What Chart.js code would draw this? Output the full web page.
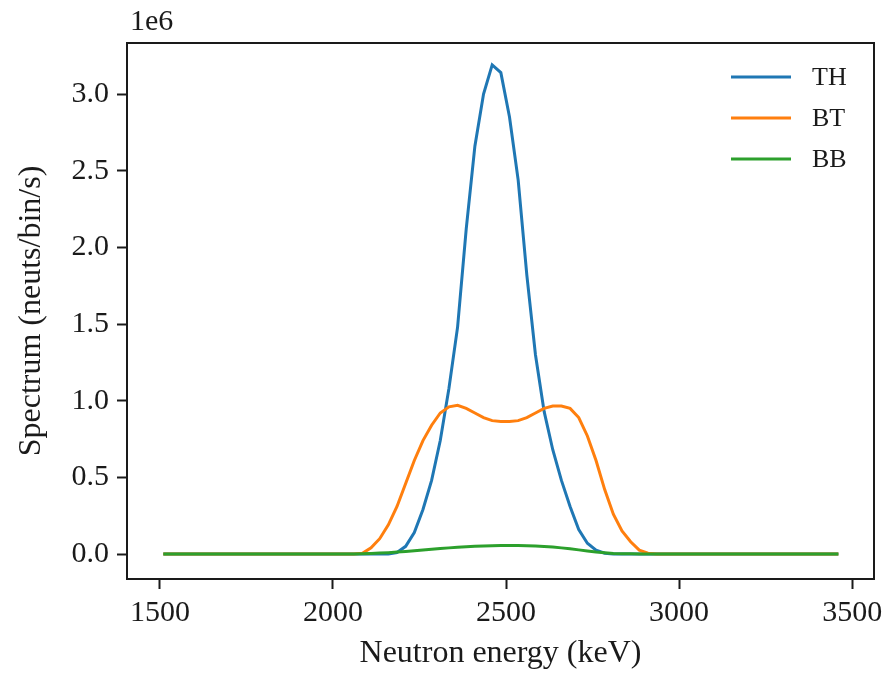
<!DOCTYPE html>
<html>
<head>
<meta charset="utf-8">
<script src="https://cdn.jsdelivr.net/npm/chart.js@4.4.1/dist/chart.umd.min.js"></script>
<style>
  html, body { margin: 0; padding: 0; background: #fff; }
  #wrap { width: 895px; height: 674px; }
</style>
</head>
<body>
<div id="wrap"><canvas id="spectrum" width="895" height="674"></canvas></div>
<script>
// neutron energy bins (keV)
const energy = [
  1510, 1535, 1560, 1585, 1610, 1635, 1660, 1685, 1710, 1735,
  1760, 1785, 1810, 1835, 1860, 1885, 1910, 1935, 1960, 1985,
  2010, 2035, 2060, 2085, 2110, 2135, 2160, 2185, 2210, 2235,
  2260, 2285, 2310, 2335, 2360, 2385, 2410, 2435, 2460, 2485,
  2510, 2535, 2560, 2585, 2610, 2635, 2660, 2685, 2710, 2735,
  2760, 2785, 2810, 2835, 2860, 2885, 2910, 2935, 2960, 2985,
  3010, 3035, 3060, 3085, 3110, 3135, 3160, 3185, 3210, 3235,
  3260, 3285, 3310, 3335, 3360, 3385, 3410, 3435, 3460
];

// spectra, in units of 1e6 neuts/bin/s
const th = [
  0, 0, 0, 0, 0, 0, 0, 0, 0, 0,
  0, 0, 0, 0, 0, 0, 0, 0, 0, 0,
  0, 0, 0, 0, 0, 0, 0, 0.01, 0.05, 0.14,
  0.29, 0.48, 0.74, 1.08, 1.48, 2.12, 2.66, 3.00, 3.19, 3.14,
  2.85, 2.44, 1.82, 1.30, 0.93, 0.68, 0.48, 0.31, 0.16, 0.07,
  0.025, 0.005, 0, 0, 0, 0, 0, 0, 0, 0,
  0, 0, 0, 0, 0, 0, 0, 0, 0, 0,
  0, 0, 0, 0, 0, 0, 0, 0, 0
];
const bt = [
  0, 0, 0, 0, 0, 0, 0, 0, 0, 0,
  0, 0, 0, 0, 0, 0, 0, 0, 0, 0,
  0, 0, 0, 0.005, 0.04, 0.10, 0.19, 0.31, 0.46, 0.61,
  0.74, 0.84, 0.92, 0.96, 0.97, 0.95, 0.92, 0.89, 0.87, 0.865,
  0.865, 0.87, 0.89, 0.92, 0.95, 0.965, 0.965, 0.95, 0.89, 0.77,
  0.61, 0.42, 0.26, 0.15, 0.08, 0.025, 0.005, 0, 0, 0,
  0, 0, 0, 0, 0, 0, 0, 0, 0, 0,
  0, 0, 0, 0, 0, 0, 0, 0, 0
];
const bb = [
  0, 0, 0, 0, 0, 0, 0, 0, 0, 0,
  0, 0, 0, 0, 0, 0, 0, 0, 0, 0,
  0, 0, 0, 0.002, 0.004, 0.006, 0.009, 0.013, 0.017, 0.021,
  0.026, 0.031, 0.036, 0.040, 0.044, 0.047, 0.050, 0.052, 0.054, 0.055,
  0.055, 0.055, 0.054, 0.052, 0.049, 0.045, 0.040, 0.034, 0.027, 0.020,
  0.013, 0.008, 0.004, 0.002, 0.001, 0, 0, 0, 0, 0,
  0, 0, 0, 0, 0, 0, 0, 0, 0, 0,
  0, 0, 0, 0, 0, 0, 0, 0, 0
];

const seriesNames = ["TH", "BT", "BB"];
const seriesColors = ["#1f77b4", "#ff7f0e", "#2ca02c"];
const xTicks = [1500, 2000, 2500, 3000, 3500];
const yTicks = [0, 0.5, 1.0, 1.5, 2.0, 2.5, 3.0];

const FONT = "'Liberation Serif', 'Times New Roman', serif";
const INK = "#1a1a1a";

function pts(ys) {
  return energy.map((e, i) => ({ x: e, y: ys[i] }));
}

/* ================= FRAME, OFFSET TEXT, LEGEND ================= */
const frame = {
  id: "frame",
  afterDraw(chart) {
    const { ctx, chartArea: a } = chart;
    ctx.save();
    ctx.strokeStyle = INK;
    ctx.lineWidth = 2;
    ctx.strokeRect(a.left, a.top, a.right - a.left, a.bottom - a.top);

    ctx.fillStyle = INK;
    ctx.font = "30px " + FONT;
    ctx.textAlign = "left";
    ctx.textBaseline = "middle";
    ctx.fillText("1e6", a.left + 3, 22);

    // legend in the upper right corner
    ctx.font = "26px " + FONT;
    chart.data.datasets.forEach((ds, i) => {
      const y = a.top + 34 + i * 41;
      ctx.strokeStyle = ds.borderColor;
      ctx.lineWidth = 3;
      ctx.beginPath();
      ctx.moveTo(a.right - 143, y);
      ctx.lineTo(a.right - 83, y);
      ctx.stroke();
      ctx.fillStyle = INK;
      ctx.fillText(ds.label, a.right - 62, y + 1);
    });
    ctx.restore();
  }
};

new Chart(document.getElementById("spectrum"), {
  type: "line",
  data: {
    datasets: [
      { label: seriesNames[0], data: pts(th), borderColor: seriesColors[0], order: 3 },
      { label: seriesNames[1], data: pts(bt), borderColor: seriesColors[1], order: 2 },
      { label: seriesNames[2], data: pts(bb), borderColor: seriesColors[2], order: 1 }
    ]
  },
  options: {
    responsive: false,
    animation: false,
    layout: { padding: { left: 0, right: 21, top: 43, bottom: 0 } },
    elements: {
      point: { radius: 0 },
      line: { borderWidth: 3, tension: 0, fill: false }
    },
    plugins: { legend: { display: false }, tooltip: { enabled: false } },
    scales: {
      x: {
        type: "linear",
        min: 1405,
        max: 3563,
        afterBuildTicks: s => { s.ticks = xTicks.map(v => ({ value: v })); },
        afterFit: s => { s.height = 95; },
        grid: { drawOnChartArea: false, tickLength: 10, tickWidth: 2, tickColor: INK },
        border: { color: INK, width: 2 },
        ticks: {
          color: INK,
          font: { family: FONT, size: 30 },
          padding: 6,
          maxRotation: 0,
          callback: v => String(v)
        },
        title: {
          display: true,
          text: "Neutron energy (keV)",
          color: INK,
          font: { family: FONT, size: 32 },
          padding: { top: 0, bottom: 1 }
        }
      },
      y: {
        min: -0.163,
        max: 3.333,
        afterBuildTicks: s => { s.ticks = yTicks.map(v => ({ value: v })); },
        afterFit: s => { s.width = 127; },
        grid: { drawOnChartArea: false, tickLength: 10, tickWidth: 2, tickColor: INK },
        border: { color: INK, width: 2 },
        ticks: {
          color: INK,
          font: { family: FONT, size: 30 },
          padding: 8,
          callback: v => v.toFixed(1)
        },
        title: {
          display: true,
          text: "Spectrum (neuts/bin/s)",
          color: INK,
          font: { family: FONT, size: 32 },
          padding: { top: 12, bottom: 0 }
        }
      }
    }
  },
  plugins: [frame]
});
</script>
</body>
</html>
